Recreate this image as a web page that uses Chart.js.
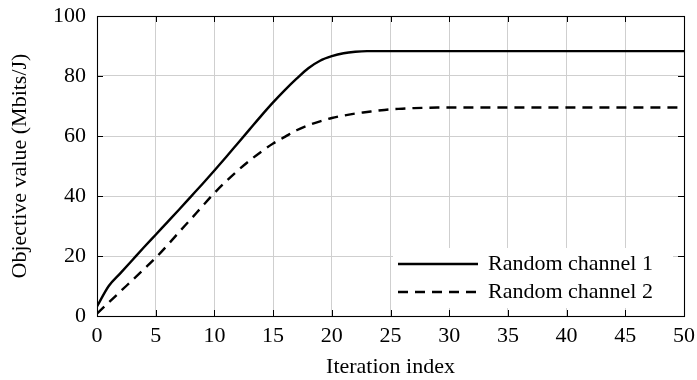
<!DOCTYPE html>
<html>
<head>
<meta charset="utf-8">
<script src="https://cdn.jsdelivr.net/npm/chart.js@4/dist/chart.umd.min.js"></script>
<style>
  html, body { margin: 0; padding: 0; background: #fff; }
  #wrap { width: 697px; height: 380px; }
</style>
</head>
<body>
<div id="wrap"><canvas id="c" width="697" height="380"></canvas></div>
<script>
const iterations = Array.from({length: 51}, (_, i) => i);
const channel1 = [3.2, 10.0, 14.3, 18.6, 22.9, 27.1, 31.3, 35.5, 39.8, 44.1, 48.5,
  53.0, 57.6, 62.2, 66.8, 71.2, 75.3, 79.1, 82.6, 85.1, 86.6,
  87.6, 88.1, 88.3, 88.3, 88.3, 88.3, 88.3, 88.3, 88.3, 88.3,
  88.3, 88.3, 88.3, 88.3, 88.3, 88.3, 88.3, 88.3, 88.3, 88.3,
  88.3, 88.3, 88.3, 88.3, 88.3, 88.3, 88.3, 88.3, 88.3, 88.3];
const channel2 = [0.8, 4.5, 8.2, 11.9, 15.6, 19.4, 23.6, 28.0, 32.3, 36.7, 41.0,
  44.9, 48.5, 51.8, 54.8, 57.5, 59.7, 61.9, 63.6, 64.9, 66.0,
  66.8, 67.5, 68.0, 68.5, 68.9, 69.1, 69.3, 69.4, 69.5, 69.5,
  69.5, 69.5, 69.5, 69.5, 69.5, 69.5, 69.5, 69.5, 69.5, 69.5,
  69.5, 69.5, 69.5, 69.5, 69.5, 69.5, 69.5, 69.5, 69.5, 69.5];
const seriesNames = ['Random channel 1', 'Random channel 2'];
const xTicks = [0, 5, 10, 15, 20, 25, 30, 35, 40, 45, 50];
const yTicks = [0, 20, 40, 60, 80, 100];

const FONT = "'Liberation Serif', 'DejaVu Serif', serif";
const FS = 22;
const toPts = (arr) => arr.map((v, i) => ({x: iterations[i], y: v}));

const framePlugin = {
  id: 'frame',
  afterDatasetsDraw(chart) {
    const ctx = chart.ctx, a = chart.chartArea;
    // legend
    const boxR = a.right - 11, boxB = a.bottom - 8;
    const boxL = boxR - 280, boxT = boxB - 60;
    ctx.save();
    ctx.fillStyle = '#fff';
    ctx.fillRect(boxL, boxT, boxR - boxL, boxB - boxT);
    const ds = chart.data.datasets;
    ds.forEach((d, k) => {
      const y = boxT + 16 + k * 28;
      ctx.beginPath();
      ctx.strokeStyle = '#000';
      ctx.lineWidth = 2.4;
      ctx.setLineDash(d.borderDash || []);
      ctx.moveTo(boxL + 5, y);
      ctx.lineTo(boxL + 85, y);
      ctx.stroke();
      ctx.setLineDash([]);
      ctx.fillStyle = '#000';
      ctx.font = FS + 'px ' + FONT;
      ctx.textBaseline = 'alphabetic';
      ctx.textAlign = 'left';
      ctx.fillText(d.label, boxL + 95, y + 6);
    });
    ctx.restore();
  },
  afterDraw(chart) {
    const ctx = chart.ctx, a = chart.chartArea;
    const xs = chart.scales.x, ys = chart.scales.y;
    const L = 6;
    ctx.save();
    ctx.strokeStyle = '#000';
    ctx.lineWidth = 1;
    ctx.beginPath();
    xTicks.forEach(t => {
      const px = Math.round(xs.getPixelForValue(t)) + 0.5;
      ctx.moveTo(px, a.bottom); ctx.lineTo(px, a.bottom - L);
      ctx.moveTo(px, a.top); ctx.lineTo(px, a.top + L);
    });
    yTicks.forEach(t => {
      const py = Math.round(ys.getPixelForValue(t)) + 0.5;
      ctx.moveTo(a.left, py); ctx.lineTo(a.left + L, py);
      ctx.moveTo(a.right, py); ctx.lineTo(a.right - L, py);
    });
    ctx.stroke();
    ctx.lineWidth = 1.1;
    ctx.strokeRect(Math.round(a.left) + 0.5, Math.round(a.top) + 0.5,
      Math.round(a.right - a.left), Math.round(a.bottom - a.top));
    ctx.restore();
  }
};

new Chart(document.getElementById('c'), {
  type: 'line',
  data: {
    datasets: [
      { label: seriesNames[0], data: toPts(channel1), borderColor: '#000', borderWidth: 2.4,
        pointRadius: 0, cubicInterpolationMode: 'monotone', fill: false },
      { label: seriesNames[1], data: toPts(channel2), borderColor: '#000', borderWidth: 2.4,
        borderDash: [10, 7], pointRadius: 0, cubicInterpolationMode: 'monotone', fill: false }
    ]
  },
  options: {
    responsive: false,
    animation: false,
    layout: { padding: { left: 7, right: 13, top: 16, bottom: 0 } },
    plugins: { legend: { display: false }, tooltip: { enabled: false } },
    scales: {
      x: {
        type: 'linear', min: 0, max: 50,
        afterBuildTicks: (s) => { s.ticks = xTicks.map(v => ({value: v})); },
        afterFit: (s) => { s.height = 64; s.paddingLeft = 0; s.paddingRight = 0; },
        grid: { color: '#cfcfcf', lineWidth: 1, drawTicks: false },
        border: { display: false },
        ticks: { color: '#000', font: { family: FONT, size: FS }, padding: 7, maxRotation: 0 },
        title: { display: true, text: 'Iteration index', color: '#000',
          font: { family: FONT, size: FS }, padding: 0 }
      },
      y: {
        min: 0, max: 100,
        afterBuildTicks: (s) => { s.ticks = yTicks.map(v => ({value: v})); },
        afterFit: (s) => { s.width = 90; s.paddingTop = 0; s.paddingBottom = 0; },
        grid: { color: '#cfcfcf', lineWidth: 1, drawTicks: false },
        border: { display: false },
        ticks: { color: '#000', font: { family: FONT, size: FS }, padding: 11 },
        title: { display: true, text: 'Objective value (Mbits/J)', color: '#000',
          font: { family: FONT, size: FS }, padding: 0 }
      }
    }
  },
  plugins: [framePlugin]
});
</script>
</body>
</html>
